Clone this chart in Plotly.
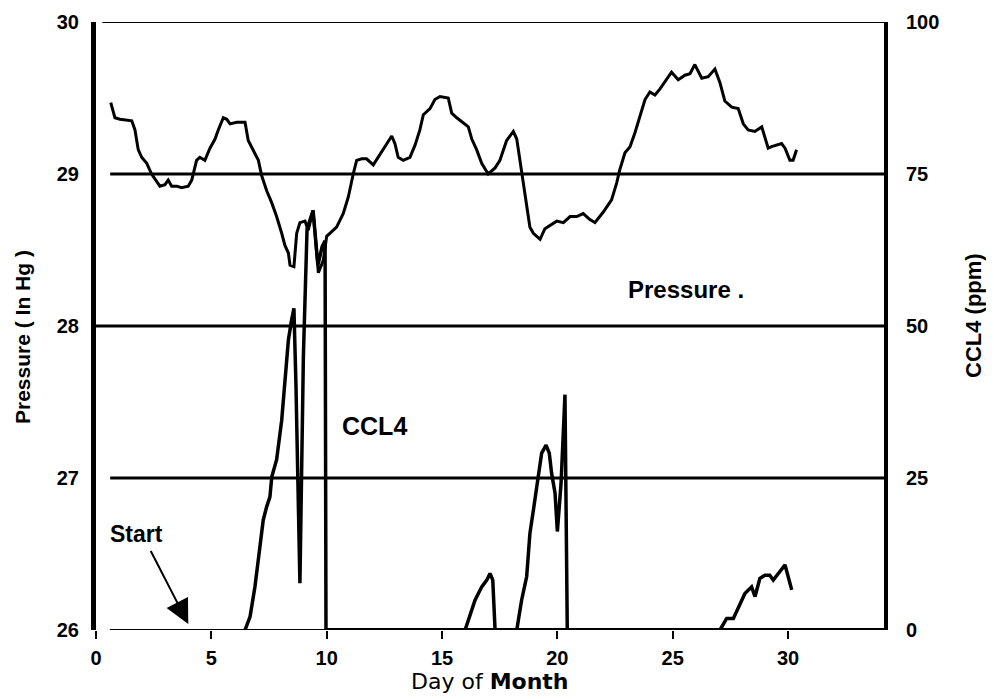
import plotly.graph_objects as go

# ---------------- data ----------------
pressure_day = [0.64, 0.82, 1.04, 1.55, 1.69, 1.83, 1.98, 2.20, 2.41, 2.63, 2.77, 2.99, 3.13, 3.28,
                3.50, 3.71, 4.00, 4.15, 4.36, 4.50, 4.72, 4.94, 5.16, 5.30, 5.52, 5.67, 5.81, 6.10,
                6.46, 6.60, 6.82, 7.04, 7.18, 7.40, 7.62, 7.83, 8.05, 8.19, 8.34, 8.41, 8.58, 8.70,
                8.84, 9.06, 9.20, 9.41, 9.64, 9.85, 10.00, 10.14, 10.43, 10.72, 10.94, 11.15, 11.30,
                11.52, 11.73, 12.02, 12.24, 12.45, 12.67, 12.82, 12.96, 13.10, 13.32, 13.61, 13.83,
                14.04, 14.19, 14.48, 14.69, 14.91, 15.27, 15.42, 15.64, 16.14, 16.29, 16.50, 16.72,
                17.00, 17.30, 17.51, 17.80, 18.09, 18.24, 18.38, 18.60, 18.81, 18.96, 19.25, 19.46,
                19.68, 19.97, 20.26, 20.55, 20.84, 21.12, 21.41, 21.63, 21.99, 22.35, 22.57, 22.71,
                22.93, 23.15, 23.36, 23.58, 23.80, 24.01, 24.23, 24.45, 24.66, 24.95, 25.24, 25.53,
                25.75, 25.96, 26.26, 26.54, 26.83, 27.05, 27.26, 27.56, 27.84, 28.06, 28.27, 28.56,
                28.86, 29.14, 29.29, 29.51, 29.72, 29.87, 30.08, 30.22, 30.37]
pressure_inhg = [29.47, 29.37, 29.36, 29.35, 29.29, 29.16, 29.11, 29.07, 29.00, 28.95, 28.92, 28.93,
                 28.96, 28.92, 28.92, 28.91, 28.92, 28.96, 29.09, 29.11, 29.09, 29.17, 29.23, 29.29,
                 29.37, 29.36, 29.33, 29.34, 29.34, 29.22, 29.16, 29.09, 28.99, 28.89, 28.81, 28.72,
                 28.61, 28.53, 28.48, 28.40, 28.39, 28.61, 28.68, 28.69, 28.63, 28.76, 28.35, 28.43,
                 28.59, 28.61, 28.65, 28.74, 28.85, 29.00, 29.09, 29.10, 29.10, 29.06, 29.11, 29.16,
                 29.21, 29.25, 29.20, 29.11, 29.09, 29.11, 29.19, 29.29, 29.39, 29.43, 29.49, 29.51,
                 29.50, 29.40, 29.37, 29.31, 29.23, 29.16, 29.07, 29.00, 29.04, 29.09, 29.22, 29.28,
                 29.23, 29.09, 28.87, 28.65, 28.61, 28.57, 28.64, 28.66, 28.69, 28.68, 28.72, 28.72,
                 28.74, 28.70, 28.68, 28.75, 28.83, 28.94, 29.03, 29.14, 29.18, 29.27, 29.38, 29.49,
                 29.54, 29.52, 29.56, 29.61, 29.67, 29.62, 29.65, 29.66, 29.72, 29.63, 29.64, 29.69,
                 29.60, 29.48, 29.44, 29.43, 29.33, 29.29, 29.28, 29.31, 29.17, 29.18, 29.19, 29.20,
                 29.17, 29.09, 29.09, 29.16]

ccl4_day = [6.46, 6.68, 6.89, 7.11, 7.25, 7.40, 7.54, 7.62, 7.83, 8.05, 8.19, 8.34, 8.48, 8.58,
            8.67, 8.84, 8.99, 9.06, 9.15, 9.41, 9.62, 9.80, 9.93, 9.97,
            16.00, 16.43, 16.72, 16.94, 17.08, 17.20, 17.30,
            18.24, 18.45, 18.67, 18.81, 18.96, 19.17, 19.32, 19.51, 19.65, 19.75, 19.90, 20.00,
            20.16, 20.33, 20.37, 20.43,
            27.05, 27.34, 27.63, 27.91, 28.13, 28.42, 28.57, 28.78, 29.00, 29.21, 29.36, 29.58,
            29.87, 30.16]
ccl4_ppm = [0, 2.2, 7.1, 13.7, 18.1, 20.3, 21.9, 25.2, 28.0, 34.5, 41.1, 47.7, 51.0, 52.9,
            40.0, 7.7, 45.0, 53.0, 66.0, 69.0, 60.0, 63.0, 64.0, 0,
            0, 4.9, 7.1, 8.2, 9.3, 8.2, 0,
            0, 4.9, 8.8, 15.9, 19.7, 25.2, 29.1, 30.4, 29.1, 25.8, 22.5, 16.2,
            24.1, 38.7, 24.7, 0,
            0, 1.9, 1.9, 4.4, 6.0, 7.1, 5.5, 8.5, 9.0, 9.0, 8.2, 9.3,
            10.7, 6.6]

x_ticks = [0, 5, 10, 15, 20, 25, 30]
p_ticks = [26, 27, 28, 29, 30]
c_ticks = [0, 25, 50, 75, 100]

X_RANGE = [0, 34.16]
SANS = "Liberation Sans, Arial, sans-serif"
BOLD = dict(family=SANS, size=20, color="black", weight="bold")

fig = go.Figure()

fig.add_trace(go.Scatter(x=pressure_day, y=pressure_inhg, mode="lines", name="Pressure",
                         line=dict(color="black", width=3), yaxis="y", showlegend=False))
fig.add_trace(go.Scatter(x=ccl4_day, y=ccl4_ppm, mode="lines", name="CCL4",
                         line=dict(color="black", width=3.5), yaxis="y2", showlegend=False))

# horizontal reference lines at the pressure ticks
for v, start in [(27, 0.018), (28, -0.005), (29, 0.018)]:
    fig.add_shape(type="line", xref="paper", yref="y", x0=start, x1=1.0,
                  y0=v, y1=v, line=dict(color="black", width=3))
fig.add_shape(type="line", xref="paper", yref="y", x0=0.008, x1=1.0, y0=30, y1=30,
              line=dict(color="black", width=2))
# bottom line: thin left part, thick right part
fig.add_shape(type="line", xref="x", yref="y", x0=0.6, x1=9.97, y0=26, y1=26,
              line=dict(color="black", width=2))
fig.add_shape(type="line", xref="x", yref="y", x0=9.97, x1=X_RANGE[1], y0=26, y1=26,
              line=dict(color="black", width=4))

# page body has an 8px margin: figure is shrunk so the plot sits where the reference has it
fig.update_layout(
    width=986, height=691,
    margin=dict(l=88, r=110, t=14, b=69),
    paper_bgcolor="white", plot_bgcolor="white",
    xaxis=dict(range=X_RANGE, tickvals=x_ticks, ticktext=[str(t) for t in x_ticks],
               showgrid=False, zeroline=False, showline=False, automargin=False,
               ticks="outside", ticklen=8, tickwidth=2, tickcolor="black",
               tickfont=BOLD, ticklabelstandoff=2),
    yaxis=dict(range=[26, 30], tickvals=p_ticks, ticktext=[str(t) for t in p_ticks],
               showgrid=False, zeroline=False, showline=True, linewidth=5, linecolor="black",
               ticks="", tickfont=BOLD, ticklabelstandoff=8, automargin=False),
    yaxis2=dict(range=[0, 100], overlaying="y", side="right", tickvals=c_ticks,
                ticktext=[str(t) for t in c_ticks], automargin=False,
                showgrid=False, zeroline=False, showline=True, linewidth=4, linecolor="black",
                ticks="", tickfont=BOLD, ticklabelstandoff=14),
    annotations=[
        dict(text="Day of <b>Month</b>", xref="paper", yref="paper", x=(490 - 96) / 788,
             y=(630 - 681) / 608, xanchor="center", yanchor="middle", showarrow=False,
             font=dict(family="DejaVu Sans, sans-serif", size=22, color="black")),
        dict(text="Pressure ( In Hg )", xref="paper", yref="paper", x=(22 - 96) / 788,
             y=(630 - 337) / 608, textangle=-90, xanchor="center", yanchor="middle", showarrow=False,
             font=dict(family=SANS, size=21, color="black", weight="bold")),
        dict(text="CCL4 (ppm)", xref="paper", yref="paper", x=(973 - 96) / 788,
             y=(630 - 315) / 608, textangle=-90, xanchor="center", yanchor="middle", showarrow=False,
             font=dict(family=SANS, size=22, color="black", weight="bold")),
        dict(text="Pressure .", xref="x", yref="y", x=25.57, y=28.24, showarrow=False,
             xanchor="center", yanchor="middle", font=dict(BOLD, size=24)),
        dict(text="CCL4", xref="x", yref="y", x=12.09, y=27.34, showarrow=False,
             xanchor="center", yanchor="middle", font=dict(BOLD, size=25)),
        dict(text="Start", xref="x", yref="y", x=1.76, y=26.63, showarrow=False,
             xanchor="center", yanchor="middle", font=dict(BOLD, size=23)),
        dict(text="", xref="x", yref="y", x=4.0, y=26.04, axref="x", ayref="y", ax=2.34, ay=26.53,
             showarrow=True, arrowhead=2, arrowsize=2.4, arrowwidth=2, arrowcolor="black"),
    ],
)

fig.write_html("out.html")
